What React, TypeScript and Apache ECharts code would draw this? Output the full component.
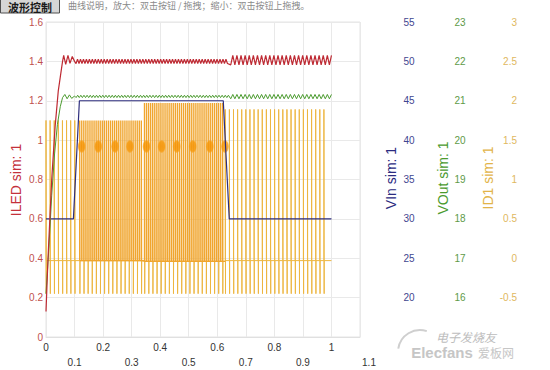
import React, { useEffect, useRef } from "react";
import * as echarts from "echarts";

// ---------- data ----------
// ILED (left axis): start-up ramp, then ripple bands
const iledRampT = [0, 0.007, 0.02, 0.032, 0.043, 0.05, 0.058, 0.062, 0.069, 0.077, 0.084, 0.092, 0.1];
const iledRampV = [0.13, 0.4, 0.8, 1.07, 1.25, 1.32, 1.4, 1.43, 1.385, 1.43, 1.39, 1.425, 1.4];
const iledRippleStart = [0.1, 0.64];
const iledRippleEnd = [0.64, 1.0];
const iledRippleHalf = [0.0052, 0.0072];
const iledRippleLow = [1.389, 1.382];
const iledRippleHigh = [1.411, 1.431];

// VOut (third axis)
const voutRampT = [0, 0.01, 0.02, 0.03, 0.04, 0.05, 0.058, 0.066, 0.074, 0.082, 0.09, 0.1];
const voutRampV = [16.1, 17.25, 18.6, 19.65, 20.4, 20.85, 21.08, 21.16, 21.05, 21.15, 21.06, 21.12];
const voutRippleStart = [0.1, 0.64];
const voutRippleEnd = [0.64, 1.0];
const voutRippleHalf = [0.0055, 0.0072];
const voutRippleLow = [21.08, 21.05];
const voutRippleHigh = [21.14, 21.16];

// VIn (second axis)
const vinT = [0, 0.096, 0.117, 0.621, 0.642, 1.0];
const vinV = [30, 30, 45, 45, 30, 30];

// ID1 switching trace (fourth axis), per segment
const id1SegStart = [0.0, 0.118, 0.345, 0.628];
const id1SegEnd = [0.118, 0.345, 0.628, 1.0];
const id1SegSpacing = [0.0144, 0.0072, 0.0072, 0.0144];
const id1SegTop = [1.75, 1.75, 1.97, 1.89];
const id1SegBase = [-0.03, -0.03, -0.04, -0.03];
const id1SegDip = [-0.45, -0.45, -0.45, -0.45];
const id1SegDipEvery = [1, 2, 2, 1];

// bright ID1 clusters
const id1BlobT = [0.125, 0.183, 0.242, 0.294, 0.352, 0.405, 0.458, 0.514, 0.574, 0.627];
const id1BlobV = [1.42, 1.42, 1.42, 1.42, 1.42, 1.42, 1.42, 1.42, 1.42, 1.42];

// ---------- helpers ----------
function pairs(t: number[], v: number[]) {
  return t.map((x, i) => [x, v[i]]);
}
function ripple(start: number[], end: number[], half: number[], low: number[], high: number[]) {
  const pts: number[][] = [];
  for (let s = 0; s < start.length; s++) {
    const n = Math.floor((end[s] - start[s]) / half[s] + 1e-6);
    for (let k = 1; k <= n; k++) {
      pts.push([start[s] + k * half[s], k % 2 ? low[s] : high[s]]);
    }
  }
  return pts;
}
// sparse pulses (top to dip); dense pulses (base to top); dips of dense segments
function buildId1() {
  const sparse: number[][] = [];
  const dense: number[][] = [];
  const dips: number[][] = [];
  for (let s = 0; s < id1SegStart.length; s++) {
    const n = Math.floor((id1SegEnd[s] - id1SegStart[s]) / id1SegSpacing[s] + 1e-6);
    const b = id1SegBase[s];
    for (let k = 0; k < n; k++) {
      const t = id1SegStart[s] + k * id1SegSpacing[s];
      const t2 = t + 0.0008;
      if (id1SegDipEvery[s] === 1) {
        sparse.push([t, b], [t, id1SegTop[s]], [t2, id1SegDip[s]], [t2, b]);
      } else {
        dense.push([t, b], [t, id1SegTop[s]], [t2, b]);
        if (k % id1SegDipEvery[s] === 0) dips.push([t2, b], [t2, id1SegDip[s]], [t2 + 0.0004, b]);
      }
    }
    if (id1SegDipEvery[s] === 1) sparse.push([id1SegEnd[s], b]);
    else {
      dense.push([id1SegEnd[s], b]);
      sparse.push([id1SegStart[s], b], [id1SegEnd[s], b]);
    }
  }
  return { sparse, dense, dips };
}
const fmt1 = (v: number) => String(Math.round(v * 10) / 10);
const FONT = 'Arial, "Liberation Sans", Helvetica, sans-serif';
const CJK = '"Noto Sans CJK SC", sans-serif';

export default function App() {
  const ref = useRef<HTMLDivElement>(null);
  useEffect(() => {
    if (!ref.current) return;
    const chart = echarts.init(ref.current, undefined, { renderer: "svg" });
    const iled = pairs(iledRampT, iledRampV).concat(
      ripple(iledRippleStart, iledRippleEnd, iledRippleHalf, iledRippleLow, iledRippleHigh)
    );
    const vout = pairs(voutRampT, voutRampV).concat(
      ripple(voutRippleStart, voutRippleEnd, voutRippleHalf, voutRippleLow, voutRippleHigh)
    );
    const vin = pairs(vinT, vinV);
    const id1 = buildId1();
    const blobs = pairs(id1BlobT, id1BlobV);

    const rightAxis = (min: number, max: number, interval: number, color: string, margin: number, align: string) => ({
      type: "value",
      position: "right",
      min,
      max,
      interval,
      axisLine: { show: false },
      axisTick: { show: false },
      splitLine: { show: false },
      axisLabel: {
        color,
        fontSize: 10,
        margin,
        align,
        formatter: (v: number) => (Math.abs(v - min) < 1e-9 ? "" : fmt1(v)),
      },
    });

    const id1Line = (name: string, data: any[], color: string, width: number, z: number) => ({
      name,
      type: "line",
      yAxisIndex: 3,
      data,
      showSymbol: false,
      lineStyle: { color, width },
      z,
    });

    chart.setOption({
      animation: false,
      textStyle: { fontFamily: FONT },
      grid: { left: 46, right: 190, top: 22, bottom: 33, show: true, borderColor: "#E4E4E4", borderWidth: 1 },
      xAxis: [
        {
          type: "value",
          min: 0,
          max: 1.1,
          interval: 0.1,
          axisLine: { show: true, lineStyle: { color: "#E0E0E0" } },
          axisTick: { show: false },
          splitLine: { show: true, lineStyle: { color: "#E9E9E9" } },
          axisLabel: {
            color: "#333",
            fontSize: 10,
            margin: 5,
            formatter: (v: number) => (Math.round(v * 10) % 2 === 0 ? fmt1(v) : ""),
          },
        },
        {
          type: "value",
          position: "bottom",
          min: 0,
          max: 1.1,
          interval: 0.1,
          axisLine: { show: false },
          axisTick: { show: false },
          splitLine: { show: false },
          axisLabel: {
            color: "#333",
            fontSize: 10,
            margin: 20,
            formatter: (v: number) => {
              const r = Math.round(v * 10);
              if (r % 2 === 0) return "";
              return r === 11 ? "{r|1.1}" : fmt1(v);
            },
            rich: { r: { color: "#333", fontSize: 10, padding: [0, 0, 0, 18] } },
          },
        },
      ],
      yAxis: [
        {
          type: "value",
          position: "left",
          min: 0,
          max: 1.6,
          interval: 0.2,
          axisLine: { show: false },
          axisTick: { show: false },
          splitLine: { show: true, lineStyle: { color: "#E9E9E9" } },
          axisLabel: { color: "#C0504D", fontSize: 10, margin: 3, formatter: (v: number) => fmt1(v) },
        },
        rightAxis(15, 55, 5, "#3F4690", 49, "center"),
        rightAxis(15, 23, 1, "#5E9A48", 100, "center"),
        rightAxis(-1, 3, 0.5, "#E0B860", 157, "right"),
      ],
      series: [
        id1Line("ID1 sim: 1", id1.sparse, "#EDB640", 1, 1),
        id1Line("ID1 dips", id1.dips, "#EDB640", 1, 1),
        id1Line("ID1 dense", id1.dense, "#F0A52E", 1.35, 2),
        {
          name: "ID1 peaks",
          type: "scatter",
          yAxisIndex: 3,
          data: blobs,
          symbol: "circle",
          symbolSize: [8, 13],
          itemStyle: {
            color: new echarts.graphic.RadialGradient(0.5, 0.5, 0.5, [
              { offset: 0, color: "#F59000" },
              { offset: 0.75, color: "#F69808" },
              { offset: 1, color: "rgba(246,160,30,0.5)" },
            ]),
          },
          z: 3,
        },
        {
          name: "VIn sim: 1",
          type: "line",
          yAxisIndex: 1,
          data: vin,
          showSymbol: false,
          lineStyle: { color: "#2D2D7D", width: 1.2 },
          z: 4,
        },
        {
          name: "VOut sim: 1",
          type: "line",
          yAxisIndex: 2,
          data: vout,
          showSymbol: false,
          lineStyle: { color: "#4C9B30", width: 1 },
          z: 5,
        },
        {
          name: "ILED sim: 1",
          type: "line",
          yAxisIndex: 0,
          data: iled,
          showSymbol: false,
          lineStyle: { color: "#BE2A33", width: 1.2 },
          z: 6,
        },
      ],
      graphic: [
        {
          type: "rect",
          shape: { x: 0.5, y: -4, width: 59, height: 17 },
          style: { fill: "#D6D6D6", stroke: "#505050", lineWidth: 1 },
        },
        {
          type: "text",
          x: 30,
          y: 7,
          style: { text: "波形控制", fontSize: 11, fontWeight: "bold", fill: "#1A1A1A", align: "center", verticalAlign: "middle", fontFamily: CJK },
        },
        {
          type: "text",
          x: 68,
          y: 5.5,
          style: { text: "曲线说明，放大：双击按钮 / 拖拽；缩小：双击按钮上拖拽。", fontSize: 9, fill: "#8A8A8A", align: "left", verticalAlign: "middle", fontFamily: CJK },
        },
        {
          type: "text",
          x: 15.5,
          y: 180,
          rotation: Math.PI / 2,
          style: { text: "ILED sim: 1", fontSize: 14, fill: "#C4313B", align: "center", verticalAlign: "middle", fontFamily: FONT },
        },
        {
          type: "text",
          x: 391,
          y: 178,
          rotation: Math.PI / 2,
          style: { text: "VIn sim: 1", fontSize: 14, fill: "#2B2B80", align: "center", verticalAlign: "middle", fontFamily: FONT },
        },
        {
          type: "text",
          x: 442.5,
          y: 178,
          rotation: Math.PI / 2,
          style: { text: "VOut sim: 1", fontSize: 14, fill: "#4A9A2E", align: "center", verticalAlign: "middle", fontFamily: FONT },
        },
        {
          type: "text",
          x: 488,
          y: 178,
          rotation: Math.PI / 2,
          style: { text: "ID1 sim: 1", fontSize: 14, fill: "#E2B448", align: "center", verticalAlign: "middle", fontFamily: FONT },
        },
        {
          type: "arc",
          shape: { cx: 420, cy: 352, r: 22, startAngle: Math.PI * 1.05, endAngle: Math.PI * 1.6 },
          style: { stroke: "#CFCFCF", lineWidth: 2, fill: "none" },
        },
        {
          type: "text",
          x: 466,
          y: 336,
          style: { text: "电子发烧友", fontSize: 12, fill: "#BDBDBD", align: "center", verticalAlign: "middle", fontStyle: "italic", fontFamily: CJK },
        },
        {
          type: "text",
          x: 442,
          y: 352,
          style: { text: "Elecfans", fontSize: 15, fontWeight: "bold", fill: "#C6C6C6", align: "center", verticalAlign: "middle", fontFamily: FONT },
        },
        {
          type: "text",
          x: 496,
          y: 352,
          style: { text: "爱板网", fontSize: 12, fill: "#C6C6C6", align: "center", verticalAlign: "middle", fontFamily: CJK },
        },
      ],
    });
    return () => chart.dispose();
  }, []);
  return (
    <div
      ref={ref}
      style={{ position: "absolute", left: 0, top: 0, width: 550, height: 370, background: "#fff" }}
    />
  );
}
